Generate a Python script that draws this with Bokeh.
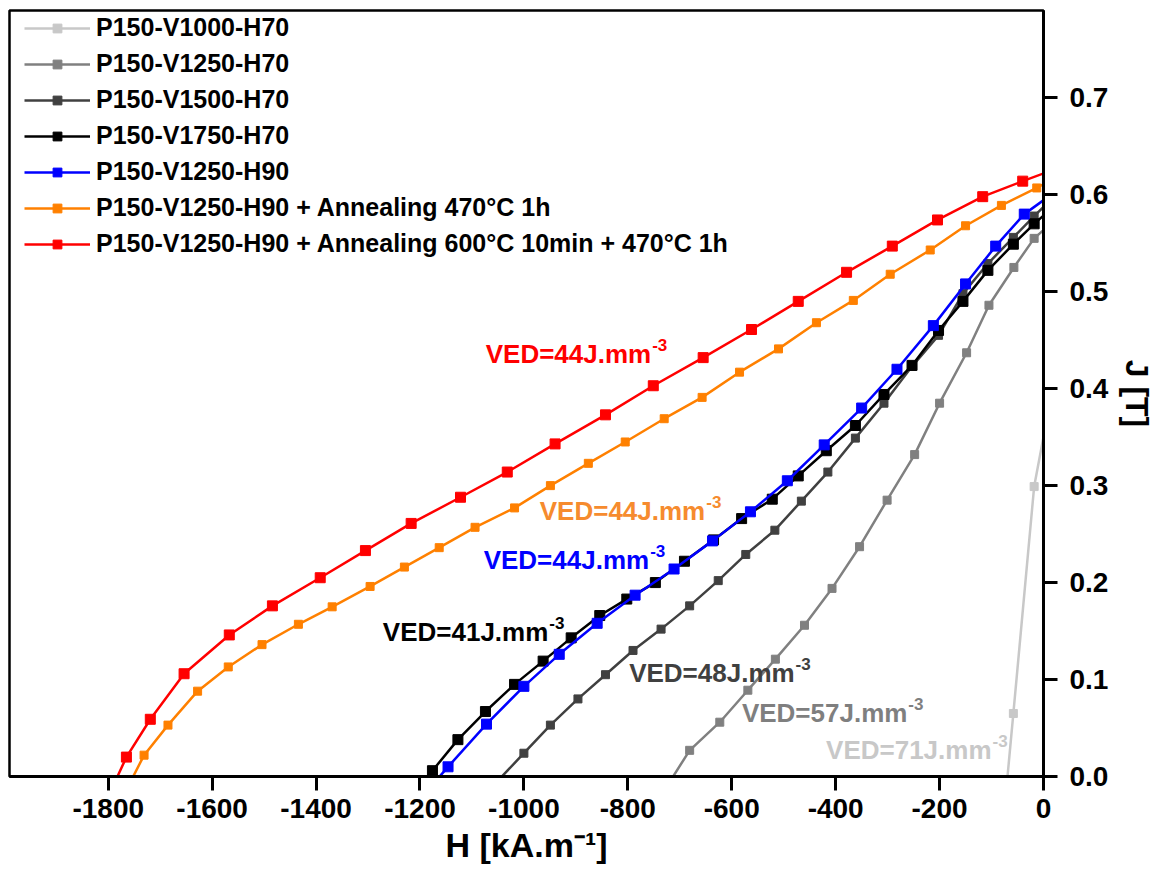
from bokeh.plotting import figure
from bokeh.models import Range1d, FixedTicker, PrintfTickFormatter, Legend, LegendItem, Label
from bokeh.embed import file_html
from bokeh.resources import INLINE

FONT = "Liberation Sans"

# ---------------- data (H in kA/m, J in T) ----------------
SERIES_NAMES = [
    "P150-V1000-H70",
    "P150-V1250-H70",
    "P150-V1500-H70",
    "P150-V1750-H70",
    "P150-V1250-H90",
    "P150-V1250-H90 + Annealing 470°C 1h",
    "P150-V1250-H90 + Annealing 600°C 10min + 470°C 1h",
]
SERIES_COLORS = ["#C8C8C8", "#808080", "#404040", "#000000", "#0000FF", "#FF8000", "#FF0000"]

H_V1000_H70 = [-75, -58, -18, 20]
J_V1000_H70 = [-0.033, 0.065, 0.299, 0.407]

H_V1250_H70 = [-760, -681, -623, -569, -516, -460, -407, -354, -301, -248, -200, -148, -105, -57, -18, 20]
J_V1250_H70 = [-0.040, 0.027, 0.056, 0.089, 0.121, 0.156, 0.194, 0.237, 0.285, 0.332, 0.385, 0.437, 0.486, 0.525, 0.555, 0.573]

H_V1500_H70 = [-1060, -1000, -949, -896, -843, -790, -736, -681, -626, -573, -517, -466, -415, -362, -307, -253, -202, -155, -107, -58, -18, 20]
J_V1500_H70 = [-0.010, 0.024, 0.053, 0.080, 0.105, 0.130, 0.152, 0.176, 0.202, 0.229, 0.254, 0.284, 0.314, 0.349, 0.385, 0.423, 0.455, 0.498, 0.529, 0.556, 0.578, 0.598]

H_V1750_H70 = [-1200, -1176, -1127, -1074, -1018, -963, -909, -854, -802, -747, -691, -635, -581, -522, -472, -418, -362, -307, -253, -202, -155, -107, -58, -18, 20]
J_V1750_H70 = [-0.010, 0.006, 0.038, 0.067, 0.095, 0.119, 0.143, 0.166, 0.183, 0.200, 0.222, 0.244, 0.266, 0.286, 0.310, 0.336, 0.362, 0.394, 0.424, 0.460, 0.490, 0.522, 0.549, 0.570, 0.588]

H_V1250_H90 = [-1190, -1146, -1072, -1000, -932, -859, -786, -711, -637, -564, -493, -422, -350, -282, -212, -150, -92, -37, 20]
J_V1250_H90 = [-0.017, 0.010, 0.054, 0.093, 0.126, 0.158, 0.187, 0.214, 0.243, 0.273, 0.305, 0.342, 0.380, 0.420, 0.465, 0.508, 0.547, 0.580, 0.602]

H_ANN470 = [-1790, -1731, -1685, -1628, -1569, -1504, -1434, -1369, -1296, -1230, -1163, -1094, -1018, -949, -876, -805, -730, -657, -585, -510, -437, -366, -295, -218, -150, -81, -13, 20]
J_ANN470 = [-0.040, 0.022, 0.053, 0.088, 0.113, 0.136, 0.157, 0.175, 0.196, 0.216, 0.236, 0.257, 0.277, 0.300, 0.323, 0.345, 0.369, 0.391, 0.417, 0.441, 0.468, 0.491, 0.518, 0.543, 0.568, 0.589, 0.607, 0.617]

H_ANN600 = [-1820, -1765, -1719, -1654, -1567, -1484, -1392, -1305, -1217, -1122, -1032, -940, -843, -751, -655, -562, -472, -379, -291, -204, -117, -40, 20]
J_ANN600 = [-0.044, 0.020, 0.059, 0.106, 0.146, 0.176, 0.205, 0.233, 0.261, 0.288, 0.314, 0.343, 0.373, 0.403, 0.432, 0.461, 0.490, 0.520, 0.547, 0.574, 0.598, 0.614, 0.626]

SERIES_H = [H_V1000_H70, H_V1250_H70, H_V1500_H70, H_V1750_H70, H_V1250_H90, H_ANN470, H_ANN600]
SERIES_J = [J_V1000_H70, J_V1250_H70, J_V1500_H70, J_V1750_H70, J_V1250_H90, J_ANN470, J_ANN600]

X_TICKS = [-1800, -1600, -1400, -1200, -1000, -800, -600, -400, -200, 0]
Y_TICKS = [0.0, 0.1, 0.2, 0.3, 0.4, 0.5, 0.6, 0.7]

VED_TEXTS = ["VED=71J.mm", "VED=57J.mm", "VED=48J.mm", "VED=41J.mm", "VED=44J.mm", "VED=44J.mm", "VED=44J.mm"]
VED_SUP = "-3"
VED_COLORS = ["#C8C8C8", "#7F7F7F", "#404040", "#000000", "#0000FF", "#F68B2E", "#FF0000"]
# anchor (end of main text) for each annotation, in data units
VED_X = [-100, -262, -479, -953, -759, -651, -755]
VED_Y = [0.027, 0.066, 0.107, 0.149, 0.223, 0.274, 0.436]

# ---------------- figure ----------------
p = figure(width=1160, height=871, output_backend="svg", toolbar_location=None,
           x_range=Range1d(-1990, 0), y_range=Range1d(0, 0.79),
           x_axis_location="below", y_axis_location="right",
           min_border_left=9, min_border_top=10, min_border_right=117, min_border_bottom=95)
p.background_fill_color = "white"
p.border_fill_color = "white"
p.grid.visible = False
p.outline_line_color = "black"
p.outline_line_width = 2.5

for ax in (p.xaxis[0], p.yaxis[0]):
    ax.axis_line_width = 3
    ax.major_tick_line_width = 3
    ax.major_tick_out = 14
    ax.major_tick_in = 0
    ax.minor_tick_line_color = None
    ax.major_label_text_font = FONT
    ax.major_label_text_font_style = "bold"
    ax.major_label_text_font_size = "28px"
    ax.major_label_text_color = "black"
    ax.axis_label_text_font = FONT
    ax.axis_label_text_font_style = "bold"
    ax.axis_label_text_color = "black"

p.xaxis[0].ticker = FixedTicker(ticks=X_TICKS)
p.xaxis[0].formatter = PrintfTickFormatter(format="%d")
p.xaxis[0].major_label_standoff = 8
p.xaxis[0].axis_label = "H [kA.m⁻¹]"
p.xaxis[0].axis_label_text_font_size = "34px"
p.xaxis[0].axis_label_standoff = 5

p.yaxis[0].ticker = FixedTicker(ticks=Y_TICKS)
p.yaxis[0].formatter = PrintfTickFormatter(format="%.1f")
p.yaxis[0].major_label_standoff = 12
p.yaxis[0].axis_label = "J [T]"
p.yaxis[0].axis_label_text_font_size = "32px"
p.yaxis[0].axis_label_standoff = 8

items = []
for name, hs, js, color in zip(SERIES_NAMES, SERIES_H, SERIES_J, SERIES_COLORS):
    msize = 10 if color in ("#000000", "#0000FF", "#FF0000") else 8
    r1 = p.line(hs, js, line_color=color, line_width=2.5)
    r2 = p.scatter(hs, js, marker="square", size=msize, fill_color=color, line_color=color)
    items.append(LegendItem(label=name, renderers=[r1, r2]))

legend = Legend(items=items, location=(0, 503),
                label_text_font=FONT, label_text_font_style="bold", label_text_font_size="25px",
                label_text_color="black",
                glyph_width=66, glyph_height=22, label_height=22, label_standoff=6,
                spacing=7, padding=15, margin=0,
                background_fill_alpha=0, border_line_alpha=0)
p.add_layout(legend)

for t, c, x, y in zip(VED_TEXTS, VED_COLORS, VED_X, VED_Y):
    p.add_layout(Label(x=x, y=y, text=t, text_align="right", text_baseline="middle",
                       text_font=FONT, text_font_style="bold", text_font_size="26px", text_color=c))
    p.add_layout(Label(x=x, y=y, text=VED_SUP, x_offset=1, y_offset=9, text_align="left",
                       text_baseline="middle", text_font=FONT, text_font_style="bold",
                       text_font_size="17px", text_color=c))

open("out.html", "w").write(file_html(p, INLINE))
